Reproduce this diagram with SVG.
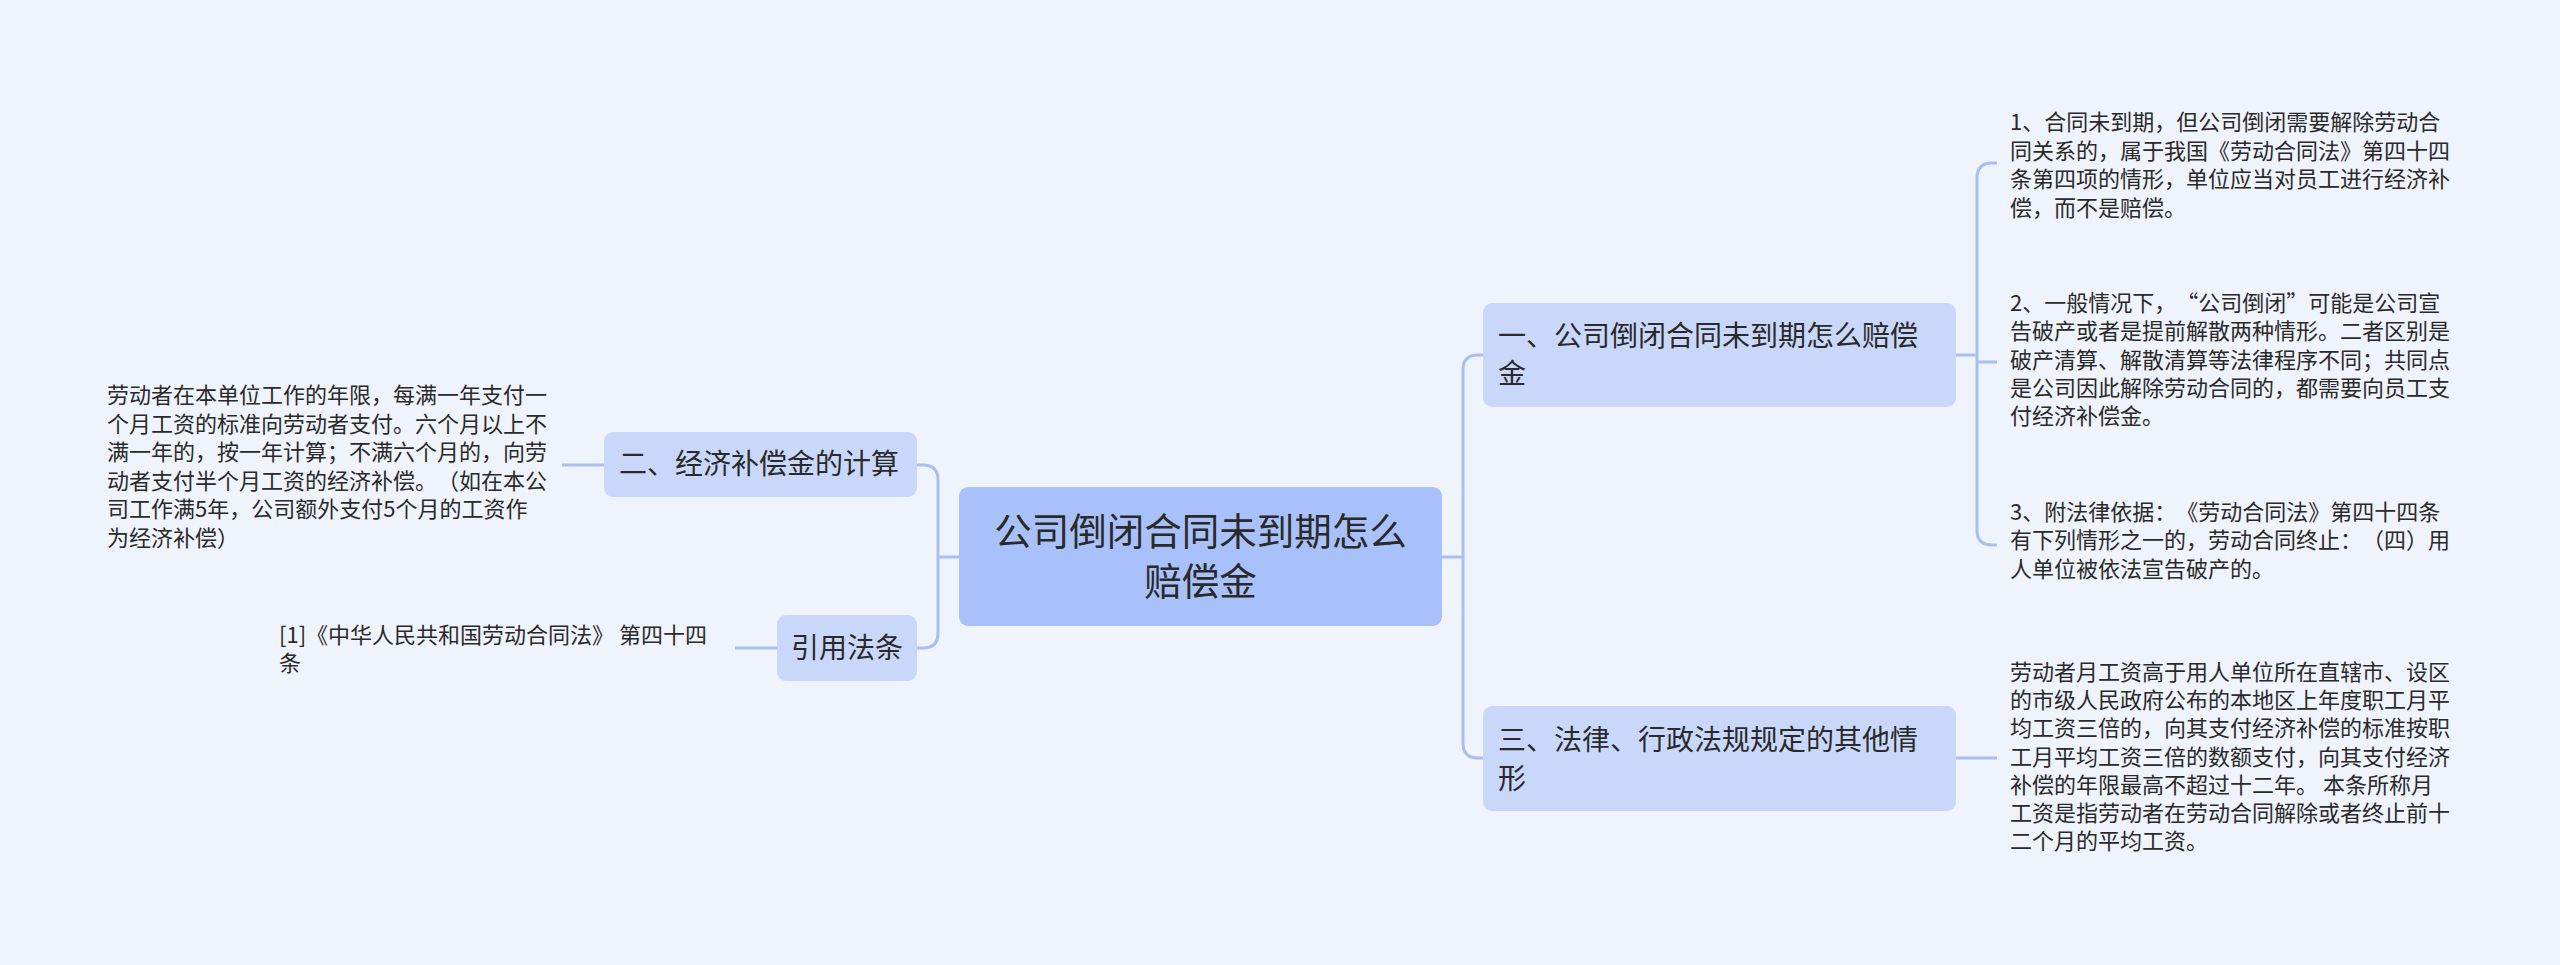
<svg xmlns="http://www.w3.org/2000/svg" width="2560" height="965" viewBox="0 0 2560 965">
<style>
text{font-family:"Noto Sans CJK SC","Noto Sans",sans-serif;fill:#2a2a2a;text-spacing-trim:space-all}
.root{fill:#a9c1fb}
.b{fill:#c9d8fa}
.t38{font-size:37.5px}
.t28{font-size:28px}
.t22{font-size:22px}
.c{fill:none;stroke:#a9bef1;stroke-width:3}
</style>
<rect width="2560" height="965" fill="#eff3fc"/>
<g id="connectors">
<path class="c" d="M959,557 H938"/>
<path class="c" d="M917,465 H923 Q938,465 938,480 V633 Q938,648 923,648 H917"/>
<path class="c" d="M562,465 H604"/>
<path class="c" d="M735,648 H777"/>
<path class="c" d="M1442,557 H1463"/>
<path class="c" d="M1483,355 H1478 Q1463,355 1463,370 V743 Q1463,758 1478,758 H1483"/>
<path class="c" d="M1956,355 H1977"/>
<path class="c" d="M1997,163 H1992 Q1977,163 1977,178 V530 Q1977,545 1992,545 H1997"/>
<path class="c" d="M1977,362 H1997"/>
<path class="c" d="M1956,758 H1997"/>
</g>
<g id="root">
<rect class="root" x="959" y="487" width="483" height="139" rx="9"/>
<text class="t38" x="1200.5" y="545" text-anchor="middle">公司倒闭合同未到期怎么</text>
<text class="t38" x="1200.5" y="595" text-anchor="middle">赔偿金</text>
</g>
<g id="branch1">
<rect class="b" x="1483" y="303" width="473" height="104" rx="9"/>
<text class="t28" x="1498" y="346">一、公司倒闭合同未到期怎么赔偿</text>
<text class="t28" x="1498" y="384">金</text>
</g>
<g id="branch3">
<rect class="b" x="1483" y="706" width="473" height="105" rx="9"/>
<text class="t28" x="1498" y="750">三、法律、行政法规规定的其他情</text>
<text class="t28" x="1498" y="789">形</text>
</g>
<g id="branch2">
<rect class="b" x="604" y="432" width="313" height="65" rx="9"/>
<text class="t28" x="619" y="474">二、经济补偿金的计算</text>
</g>
<g id="branch4">
<rect class="b" x="777" y="615" width="140" height="66" rx="9"/>
<text class="t28" x="847" y="658" text-anchor="middle">引用法条</text>
</g>
<g id="leaf1">
<text class="t22" x="2010" y="130">1、合同未到期，但公司倒闭需要解除劳动合</text>
<text class="t22" x="2010" y="158.7">同关系的，属于我国《劳动合同法》第四十四</text>
<text class="t22" x="2010" y="187.4">条第四项的情形，单位应当对员工进行经济补</text>
<text class="t22" x="2010" y="216">偿，而不是赔偿。</text>
</g>
<g id="leaf2">
<text class="t22" x="2010" y="311">2、一般情况下，“公司倒闭”可能是公司宣</text>
<text class="t22" x="2010" y="339.3">告破产或者是提前解散两种情形。二者区别是</text>
<text class="t22" x="2010" y="367.6">破产清算、解散清算等法律程序不同；共同点</text>
<text class="t22" x="2010" y="395.9">是公司因此解除劳动合同的，都需要向员工支</text>
<text class="t22" x="2010" y="424.2">付经济补偿金。</text>
</g>
<g id="leaf3">
<text class="t22" x="2010" y="520">3、附法律依据：《劳动合同法》第四十四条</text>
<text class="t22" x="2010" y="548.4">有下列情形之一的，劳动合同终止：（四）用</text>
<text class="t22" x="2010" y="576.8">人单位被依法宣告破产的。</text>
</g>
<g id="leaf4">
<text class="t22" x="2010" y="680">劳动者月工资高于用人单位所在直辖市、设区</text>
<text class="t22" x="2010" y="708.2">的市级人民政府公布的本地区上年度职工月平</text>
<text class="t22" x="2010" y="736.4">均工资三倍的，向其支付经济补偿的标准按职</text>
<text class="t22" x="2010" y="764.6">工月平均工资三倍的数额支付，向其支付经济</text>
<text class="t22" x="2010" y="792.8">补偿的年限最高不超过十二年。 本条所称月</text>
<text class="t22" x="2010" y="821">工资是指劳动者在劳动合同解除或者终止前十</text>
<text class="t22" x="2010" y="849.2">二个月的平均工资。</text>
</g>
<g id="leaf5">
<text class="t22" x="107" y="403">劳动者在本单位工作的年限，每满一年支付一</text>
<text class="t22" x="107" y="431.5">个月工资的标准向劳动者支付。六个月以上不</text>
<text class="t22" x="107" y="460">满一年的，按一年计算；不满六个月的，向劳</text>
<text class="t22" x="107" y="488.5">动者支付半个月工资的经济补偿。（如在本公</text>
<text class="t22" x="107" y="517">司工作满5年，公司额外支付5个月的工资作</text>
<text class="t22" x="107" y="545.5">为经济补偿）</text>
</g>
<g id="leaf6">
<text class="t22" x="279" y="643">[1]《中华人民共和国劳动合同法》 第四十四</text>
<text class="t22" x="279" y="671">条</text>
</g>
</svg>
